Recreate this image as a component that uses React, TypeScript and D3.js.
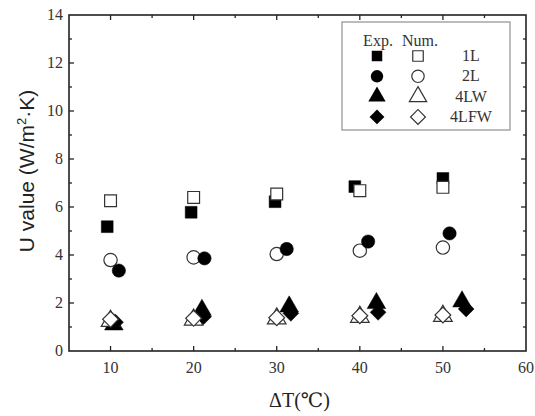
import React, { useEffect, useRef } from 'react';
import * as d3 from 'd3';

// measured delta T (the experimental points sit a bit to the right of the nominal value)
const numDT = [10, 20, 30, 40, 50];
const exp1LDT = [9.6, 19.7, 29.8, 39.4, 50.0];
const exp2LDT = [11.0, 21.3, 31.2, 41.0, 50.8];
const exp4LWDT = [10.4, 21.0, 31.5, 42.0, 52.3];
const exp4LFWDT = [10.6, 21.2, 31.7, 42.2, 52.8];

// U values (W/m2.K)
const exp1L = [5.18, 5.78, 6.22, 6.85, 7.19];
const num1L = [6.26, 6.40, 6.54, 6.68, 6.82];
const exp2L = [3.35, 3.86, 4.25, 4.56, 4.90];
const num2L = [3.79, 3.90, 4.04, 4.18, 4.31];
const exp4LW = [1.10, 1.71, 1.85, 1.99, 2.06];
const num4LW = [1.25, 1.30, 1.35, 1.42, 1.46];
const exp4LFW = [1.20, 1.43, 1.57, 1.61, 1.75];
const num4LFW = [1.32, 1.36, 1.39, 1.47, 1.50];

const xTicks = [10, 20, 30, 40, 50, 60];
const yTicks = [0, 2, 4, 6, 8, 10, 12, 14];
const legendNames = ['1L', '2L', '4LW', '4LFW'];

const W = 535;
const H = 416;
const M = { left: 69, right: 9, top: 15, bottom: 65 };

export default function App() {
  const ref = useRef<SVGSVGElement>(null);

  useEffect(() => {
    const svg = d3.select(ref.current);
    svg.selectAll('*').remove();

    const x = d3.scaleLinear().domain([5, 60]).range([M.left, W - M.right]);
    const y = d3.scaleLinear().domain([0, 14]).range([H - M.bottom, M.top]);
    const serif = '"Liberation Serif", "DejaVu Serif", serif';

    const axisG = svg.append('g').attr('stroke', '#222').attr('stroke-width', 1.3);

    // frame
    axisG.append('rect')
      .attr('x', x(5)).attr('y', y(14))
      .attr('width', x(60) - x(5)).attr('height', y(0) - y(14))
      .attr('fill', 'none').attr('stroke-width', 1.6);

    // inward ticks on all four sides
    const xt = d3.range(10, 60, 5);
    xt.forEach((v) => {
      const len = v % 10 === 0 ? 5 : 3;
      axisG.append('line').attr('x1', x(v)).attr('x2', x(v)).attr('y1', y(0)).attr('y2', y(0) - len);
      axisG.append('line').attr('x1', x(v)).attr('x2', x(v)).attr('y1', y(14)).attr('y2', y(14) + len);
    });
    const yt = d3.range(1, 14, 1);
    yt.forEach((v) => {
      const len = v % 2 === 0 ? 5 : 3;
      axisG.append('line').attr('y1', y(v)).attr('y2', y(v)).attr('x1', x(5)).attr('x2', x(5) + len);
      axisG.append('line').attr('y1', y(v)).attr('y2', y(v)).attr('x1', x(60)).attr('x2', x(60) - len);
    });

    // tick labels
    svg.append('g').selectAll('text').data(xTicks).enter().append('text')
      .attr('x', (d) => x(d)).attr('y', y(0) + 22)
      .attr('text-anchor', 'middle')
      .attr('font-family', serif).attr('font-size', 16).attr('fill', '#333')
      .text((d) => d);
    svg.append('g').selectAll('text').data(yTicks).enter().append('text')
      .attr('x', x(5) - 6).attr('y', (d) => y(d) + 5)
      .attr('text-anchor', 'end')
      .attr('font-family', serif).attr('font-size', 16).attr('fill', '#333')
      .text((d) => d);

    // axis titles
    svg.append('text')
      .attr('transform', 'translate(34,171) rotate(-90)')
      .attr('text-anchor', 'middle')
      .attr('font-family', '"Liberation Sans", Arial, sans-serif').attr('font-size', 21).attr('fill', '#222')
      .text('U value (W/m')
      .call((t) => {
        t.append('tspan').attr('dy', -8).attr('font-size', 13).text('2');
        t.append('tspan').attr('dy', 8).text('·K)');
      });
    svg.append('text')
      .attr('x', x(32.5) + 2).attr('y', H - 9)
      .attr('text-anchor', 'middle')
      .attr('font-family', serif).attr('font-size', 20).attr('fill', '#222')
      .text('ΔT(℃)');

    // markers
    const shapes: any = {
      square: d3.symbol(d3.symbolSquare, 140),
      circle: d3.symbol(d3.symbolCircle, 140),
      triangle: d3.symbol(d3.symbolTriangle, 150),
      diamond: d3.symbol(d3.symbolSquare, 125),
    };
    const rot = (kind: string) => (kind === 'diamond' ? ' rotate(45)' : '');

    const series = [
      { xs: exp1LDT, ys: exp1L, kind: 'square', filled: true },
      { xs: numDT, ys: num1L, kind: 'square', filled: false },
      { xs: numDT, ys: num2L, kind: 'circle', filled: false },
      { xs: exp2LDT, ys: exp2L, kind: 'circle', filled: true },
      { xs: exp4LWDT, ys: exp4LW, kind: 'triangle', filled: true },
      { xs: numDT, ys: num4LW, kind: 'triangle', filled: false },
      { xs: exp4LFWDT, ys: exp4LFW, kind: 'diamond', filled: true },
      { xs: numDT, ys: num4LFW, kind: 'diamond', filled: false },
    ];

    series.forEach((s) => {
      svg.append('g').selectAll('path').data(s.ys).enter().append('path')
        .attr('d', shapes[s.kind]())
        .attr('transform', (d, i) => 'translate(' + x(s.xs[i]) + ',' + y(d) + ')' + rot(s.kind))
        .attr('fill', s.filled ? '#000' : '#fff')
        .attr('stroke', s.filled ? '#000' : '#333')
        .attr('stroke-width', s.filled ? 0.5 : 1.2);
    });

    // legend
    const lg = svg.append('g');
    lg.append('rect')
      .attr('x', 342).attr('y', 22).attr('width', 168).attr('height', 108)
      .attr('fill', '#fff').attr('stroke', '#999').attr('stroke-width', 1.3);
    lg.append('text').attr('x', 378).attr('y', 46).attr('text-anchor', 'middle')
      .attr('font-family', serif).attr('font-size', 16).attr('fill', '#333').text('Exp.');
    lg.append('text').attr('x', 420).attr('y', 46).attr('text-anchor', 'middle')
      .attr('font-family', serif).attr('font-size', 16).attr('fill', '#333').text('Num.');
    const kinds = ['square', 'circle', 'triangle', 'diamond'];
    const lgSym: any = {
      square: d3.symbol(d3.symbolSquare, 110),
      circle: d3.symbol(d3.symbolCircle, 120),
      triangle: d3.symbol(d3.symbolTriangle, 130),
      diamond: d3.symbol(d3.symbolSquare, 110),
    };
    legendNames.forEach((name, i) => {
      const ry = 56 + i * 20.3;
      const k = kinds[i];
      lg.append('path').attr('d', lgSym[k]())
        .attr('transform', 'translate(377,' + ry + ')' + rot(k))
        .attr('fill', '#000');
      lg.append('path').attr('d', lgSym[k]())
        .attr('transform', 'translate(418,' + ry + ')' + rot(k))
        .attr('fill', '#fff').attr('stroke', '#333').attr('stroke-width', 1.2);
      lg.append('text').attr('x', 471).attr('y', ry + 5).attr('text-anchor', 'middle')
        .attr('font-family', serif).attr('font-size', 16).attr('fill', '#333').text(name);
    });
  }, []);

  return (
    <svg ref={ref} width={W} height={H}
      style={{ position: 'absolute', left: 0, top: 0, background: '#fff' }} />
  );
}
